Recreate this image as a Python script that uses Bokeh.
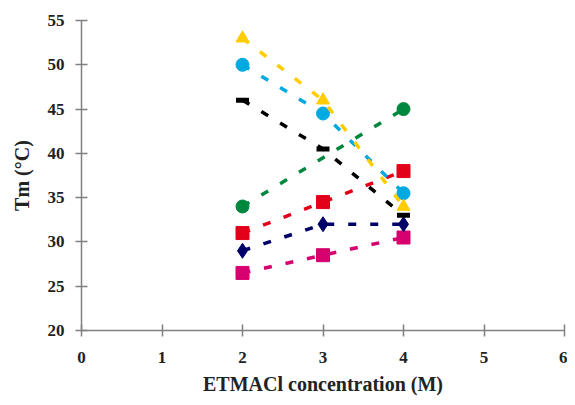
from bokeh.plotting import figure
from bokeh.embed import file_html
from bokeh.resources import INLINE
from bokeh.models import Range1d, FixedTicker

x_vals = [2, 3, 4]
x_green = [2, 4]
yellow_tri = [53, 46, 34]
cyan_circ = [50, 44.5, 35.5]
black_dash = [46, 40.5, 33]
green_circ = [34, 45]
red_sq = [31, 34.5, 38]
navy_dia = [29, 32, 32]
pink_sq = [26.5, 28.5, 30.5]

x_ticks = [0, 1, 2, 3, 4, 5, 6]
y_ticks = [20, 25, 30, 35, 40, 45, 50, 55]

series = [
    (x_vals, pink_sq, "#D6006E", "square"),
    (x_vals, navy_dia, "#000066", "diamond"),
    (x_vals, red_sq, "#E2001A", "square"),
    (x_green, green_circ, "#00873E", "circle"),
    (x_vals, black_dash, "#000000", "dash"),
    (x_vals, cyan_circ, "#00A9E0", "circle"),
    (x_vals, yellow_tri, "#FFCC00", "triangle"),
]

p = figure(width=567, height=397, output_backend="svg", toolbar_location=None,
           x_range=Range1d(0, 6), y_range=Range1d(20, 55),
           min_border_left=81, min_border_right=3, min_border_top=20,
           min_border_bottom=60)
p.outline_line_color = None
p.grid.visible = False
p.background_fill_color = "white"

for xs, ys, col, mk in series:
    p.line(xs, ys, line_color=col, line_width=3.5, line_dash="8 14")
    if mk == "dash":
        p.scatter(xs, ys, marker="dash", size=13, line_color=col, line_width=5)
    else:
        sz = 15 if mk == "diamond" else 13
        p.scatter(xs, ys, marker=mk, size=sz, fill_color=col, line_color=col)

for ax in (p.xaxis[0], p.yaxis[0]):
    ax.axis_line_color = "#808080"
    ax.axis_line_width = 1.5
    ax.major_tick_line_color = "#808080"
    ax.major_tick_line_width = 1.5
    ax.major_tick_in = 6
    ax.major_tick_out = 6
    ax.minor_tick_line_color = None
    ax.major_label_text_font = "Liberation Serif"
    ax.major_label_text_font_style = "bold"
    ax.major_label_text_font_size = "17px"
    ax.major_label_text_color = "#222222"
    ax.axis_label_text_font = "Liberation Serif"
    ax.axis_label_text_font_style = "bold"
    ax.axis_label_text_font_size = "20px"
    ax.axis_label_text_color = "#222222"

p.xaxis[0].ticker = FixedTicker(ticks=x_ticks)
p.yaxis[0].ticker = FixedTicker(ticks=y_ticks)
p.xaxis[0].axis_label = "ETMACl concentration (M)"
p.yaxis[0].axis_label = "Tm (°C)"
p.xaxis[0].major_label_standoff = 15
p.yaxis[0].major_label_standoff = 11
p.xaxis[0].axis_label_standoff = 7
p.yaxis[0].axis_label_standoff = 12

open("out.html", "w").write(file_html(p, INLINE))
